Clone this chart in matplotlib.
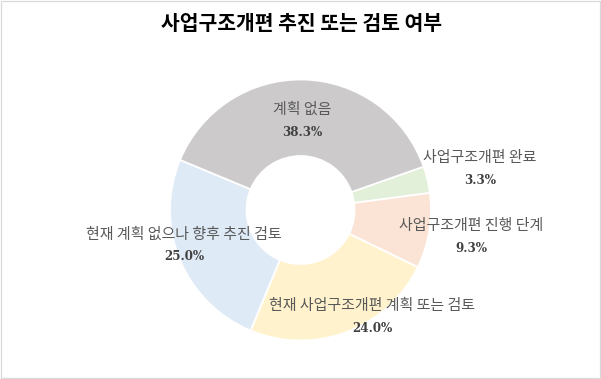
import matplotlib
matplotlib.use("Agg")
import matplotlib.pyplot as plt
from matplotlib.patches import Rectangle

plt.rcParams['font.family'] = ['Noto Sans CJK KR', 'DejaVu Sans']

# ---- data ----
title = "사업구조개편 추진 또는 검토 여부"
categories = ["사업구조개편 완료", "사업구조개편 진행 단계", "현재 사업구조개편 계획 또는 검토",
              "현재 계획 없으나 향후 추진 검토", "계획 없음"]
values = [3.3, 9.3, 24.0, 25.0, 38.3]

# ---- style / layout ----
colors = ["#e2efd9", "#fbe4d5", "#fff2cc", "#deeaf6", "#cccaca"]
W, H = 601, 379
cx, cy = 300.5, 210.0          # pixel coords (y from top)
r_out, r_in = 130.5, 54.0
start_angle = 19.4
label_pos = [(480, 158), (471, 226), (372, 306), (184, 235), (302, 110)]  # pixel coords of category text
pct_offset = 23

fig = plt.figure(figsize=(W / 100, H / 100), dpi=100)
ax = fig.add_axes([0, 0, 1, 1])
ax.pie(values, colors=colors, startangle=start_angle, counterclock=False,
       center=(cx, H - cy), radius=r_out,
       wedgeprops=dict(width=r_out - r_in, edgecolor="white", linewidth=1.3))
ax.set_xlim(0, W)
ax.set_ylim(0, H)
ax.set_aspect("equal")
ax.axis("off")

for cat, v, (px, py) in zip(categories, values, label_pos):
    ax.text(px, H - py, cat, ha="center", va="center", fontsize=10.8,
            color="#595959", family=['Noto Sans CJK KR', 'DejaVu Sans'])
    ax.text(px, H - py - pct_offset + 1, f"{v:.1f}%", ha="center", va="center",
            fontsize=8.6, fontweight="bold", color="#404040", family=['DejaVu Serif'])

ax.text(W / 2 + 1, H - 23.5, title, ha="center", va="center", fontsize=14.7,
        fontweight="bold", color="black", family=['Noto Sans CJK KR', 'DejaVu Sans'])

fig.patches.append(Rectangle((0.001, 0.002), 0.997, 0.995, transform=fig.transFigure,
                             fill=False, edgecolor="#d9d9d9", linewidth=0.9))

fig.savefig("out.png", dpi=100)
